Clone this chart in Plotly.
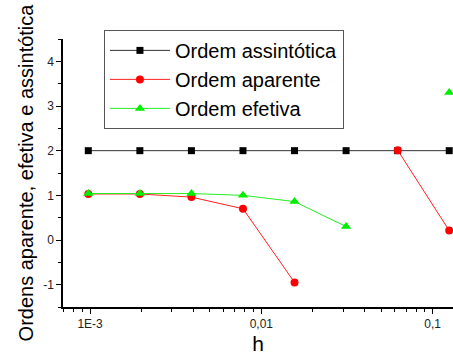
import plotly.graph_objects as go

h = [1/1024, 1/512, 1/256, 1/128, 1/64, 1/32, 1/16, 1/8]
ordem_assintotica = [2, 2, 2, 2, 2, 2, 2, 2]
ordem_aparente = [1.03, 1.03, 0.96, 0.70, -0.95, None, 2.01, 0.21]
ordem_efetiva = [1.04, 1.04, 1.04, 1.0, 0.86, 0.30, None, 3.30]

x_tickvals = [0.001, 0.01, 0.1]
x_ticktext = ["1E-3", "0,01", "0,1"]
y_tickvals = [-1, 0, 1, 2, 3, 4]
y_ticktext = ["-1", "0", "1", "2", "3", "4"]

FONT = "Liberation Sans, Arial, sans-serif"

fig = go.Figure()
fig.add_trace(go.Scatter(
    x=h, y=ordem_assintotica, name="Ordem assintótica", mode="lines+markers",
    line=dict(color="#333333", width=1),
    marker=dict(symbol="square", size=7, color="black"),
    cliponaxis=False))
fig.add_trace(go.Scatter(
    x=h, y=ordem_aparente, name="Ordem aparente", mode="lines+markers",
    line=dict(color="#ff2020", width=1),
    marker=dict(symbol="circle", size=8, color="red"),
    connectgaps=False, cliponaxis=False))
fig.add_trace(go.Scatter(
    x=h, y=ordem_efetiva, name="Ordem efetiva", mode="lines+markers",
    line=dict(color="#22ee22", width=1),
    marker=dict(symbol="triangle-up", size=9, color="#00ee00"),
    connectgaps=False, cliponaxis=False))

fig.update_layout(
    width=453, height=358,
    margin=dict(l=63, r=0, t=39, b=51),
    paper_bgcolor="white", plot_bgcolor="white",
    font=dict(family=FONT, color="black"),
    showlegend=True,
    legend=dict(
        x=0.105, y=1.034, xanchor="left", yanchor="top",
        bordercolor="#555555", borderwidth=1, bgcolor="white",
        font=dict(size=20, family=FONT, color="black"),
        itemwidth=60, tracegroupgap=0,
    ),
)
fig.update_xaxes(
    type="log", range=[-3.158, -0.881], automargin=False,
    tickvals=x_tickvals, ticktext=x_ticktext,
    ticks="outside", ticklen=5, tickwidth=1, tickcolor="black",
    tickfont=dict(size=12, color="#222222"),
    showline=True, linecolor="black", linewidth=1.5,
    showgrid=False, zeroline=False,
    minor=dict(ticks="outside", ticklen=3, tickcolor="black", dtick="D1", showgrid=False),
    title=dict(text="h", font=dict(size=21), standoff=6),
)
fig.update_yaxes(
    range=[-1.5, 4.5], automargin=False,
    tickvals=y_tickvals, ticktext=y_ticktext,
    ticks="outside", ticklen=5, tickwidth=1, tickcolor="black",
    tickfont=dict(size=12, color="#222222"),
    showline=True, linecolor="black", linewidth=1.5,
    showgrid=False, zeroline=False,
    minor=dict(ticks="outside", ticklen=3, tickcolor="black", dtick=0.5, showgrid=False),
    title=dict(text="Ordens aparente, efetiva e assintótica", font=dict(size=20), standoff=4),
)

fig.write_html("out.html", config={"displayModeBar": False},
               post_script="document.body.style.margin='0';")
